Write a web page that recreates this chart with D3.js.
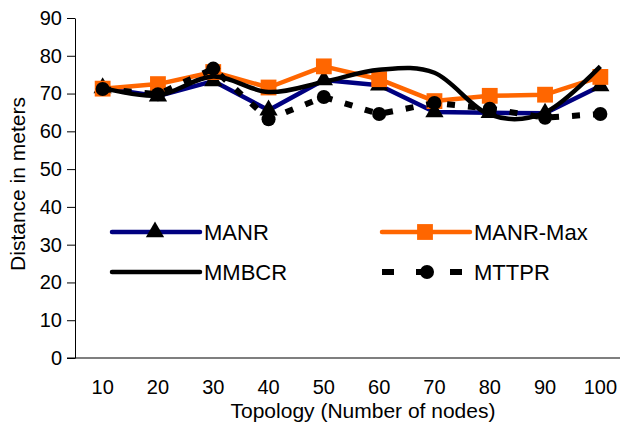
<!DOCTYPE html>
<html>
<head>
<meta charset="utf-8">
<script src="https://cdn.jsdelivr.net/npm/d3@7"></script>
<style>
  body { margin: 0; background: #fff; }
  svg { font-family: "Liberation Sans", Arial, sans-serif; }
</style>
</head>
<body>
<div id="chart"></div>
<script>
// values
const topology = [10, 20, 30, 40, 50, 60, 70, 80, 90, 100];
const manr    = [71.5, 69.3, 73.3, 65.6, 73.6, 72.2, 65.1, 64.9, 64.8, 72.0];
const manrMax = [71.3, 72.5, 75.7, 71.6, 77.2, 73.8, 68.0, 69.4, 69.7, 74.4];
const mmbcr   = [71.5, 69.5, 74.5, 70.4, 73.1, 76.3, 75.5, 64.4, 65.0, 77.2];
const mttpr   = [71.2, 69.8, 76.6, 63.2, 69.1, 64.6, 67.5, 66.0, 63.6, 64.6];
const yTicks  = [0, 10, 20, 30, 40, 50, 60, 70, 80, 90];

const width = 620, height = 426;
const plotLeft = 75, plotRight = 628, plotTop = 18, plotBottom = 358;

const svg = d3.select('#chart')
    .append('svg')
    .attr('width', width)
    .attr('height', height);

const xScale = d3.scaleBand().domain(topology).range([plotLeft, plotRight]);
const yScale = d3.scaleLinear().domain([0, 90]).range([plotBottom, plotTop]);
const cx = d => xScale(d) + xScale.bandwidth() / 2;

// y axis
const yAxis = svg.append('g')
    .attr('transform', `translate(${plotLeft},0)`)
    .call(d3.axisLeft(yScale).tickValues(yTicks).tickSize(8).tickPadding(5).tickSizeOuter(0));
yAxis.select('.domain').attr('stroke', '#000').attr('stroke-width', 1);
yAxis.selectAll('line').attr('stroke', '#000');
yAxis.selectAll('text').attr('font-size', 20).attr('fill', '#000').attr('font-family', null);

// x axis (no tick marks)
const xAxis = svg.append('g')
    .attr('transform', `translate(0,${plotBottom})`)
    .call(d3.axisBottom(xScale).tickSize(0).tickPadding(22).tickSizeOuter(0));
xAxis.select('.domain').attr('d', `M${plotLeft - 8},0H${plotRight}`).attr('stroke', '#000').attr('stroke-width', 1.2);
xAxis.selectAll('text').attr('font-size', 20).attr('fill', '#000').attr('font-family', null);

// axis labels
svg.append('text')
    .attr('transform', 'translate(25,184) rotate(-90)')
    .attr('text-anchor', 'middle')
    .attr('font-size', 21)
    .text('Distance in meters');

svg.append('text')
    .attr('x', 363)
    .attr('y', 418)
    .attr('text-anchor', 'middle')
    .attr('font-size', 21)
    .text('Topology (Number of nodes)');

const series = [
  { name: 'MANR',     values: manr,    color: '#000080', marker: 'triangle', markerFill: '#000', curve: d3.curveLinear, dash: null },
  { name: 'MANR-Max', values: manrMax, color: '#FF6600', marker: 'square',   markerFill: '#FF6600', curve: d3.curveLinear, dash: null },
  { name: 'MMBCR',    values: mmbcr,   color: '#000',    marker: null,       markerFill: null, curve: d3.curveCatmullRom.alpha(0), dash: null },
  { name: 'MTTPR',    values: mttpr,   color: '#000',    marker: 'circle',   markerFill: '#000', curve: d3.curveLinear, dash: '8,13' }
];

const symbols = {
  triangle: d3.symbol().type(d3.symbolTriangle).size(145),
  square: d3.symbol().type(d3.symbolSquare).size(250),
  circle: d3.symbol().type(d3.symbolCircle).size(155)
};

series.forEach(s => {
  const line = d3.line()
      .curve(s.curve)
      .x((d, i) => cx(topology[i]))
      .y(d => yScale(d));

  svg.append('path')
      .datum(s.values)
      .attr('fill', 'none')
      .attr('stroke', s.color)
      .attr('stroke-width', s.dash ? 6 : 4.5)
      .attr('stroke-dasharray', s.dash)
      .attr('stroke-linejoin', 'round')
      .attr('d', line);

  if (s.marker) {
    svg.append('g')
        .selectAll('path')
        .data(s.values)
        .enter()
        .append('path')
        .attr('transform', (d, i) => `translate(${cx(topology[i])},${yScale(d)})`)
        .attr('d', symbols[s.marker])
        .attr('fill', s.markerFill);
  }
});

// legend
const legendPos = [[112, 232], [382, 232], [112, 272], [382, 272]];
series.forEach((s, i) => {
  const [lx, ly] = legendPos[i];
  const g = svg.append('g').attr('transform', `translate(${lx},${ly})`);
  g.append('line')
      .attr('x1', 0).attr('x2', 88)
      .attr('y1', 0).attr('y2', 0)
      .attr('stroke', s.color)
      .attr('stroke-width', s.dash ? 6 : 4.5)
      .attr('stroke-dasharray', s.dash ? '12,22' : null)
      .attr('stroke-linecap', s.dash ? 'butt' : 'round');
  if (s.marker) {
    g.append('path')
        .attr('transform', `translate(${s.dash ? 45 : 43},0)`)
        .attr('d', symbols[s.marker])
        .attr('fill', s.markerFill);
  }
  g.append('text')
      .attr('x', 92)
      .attr('y', 8)
      .attr('font-size', 22)
      .text(s.name);
});
</script>
</body>
</html>
